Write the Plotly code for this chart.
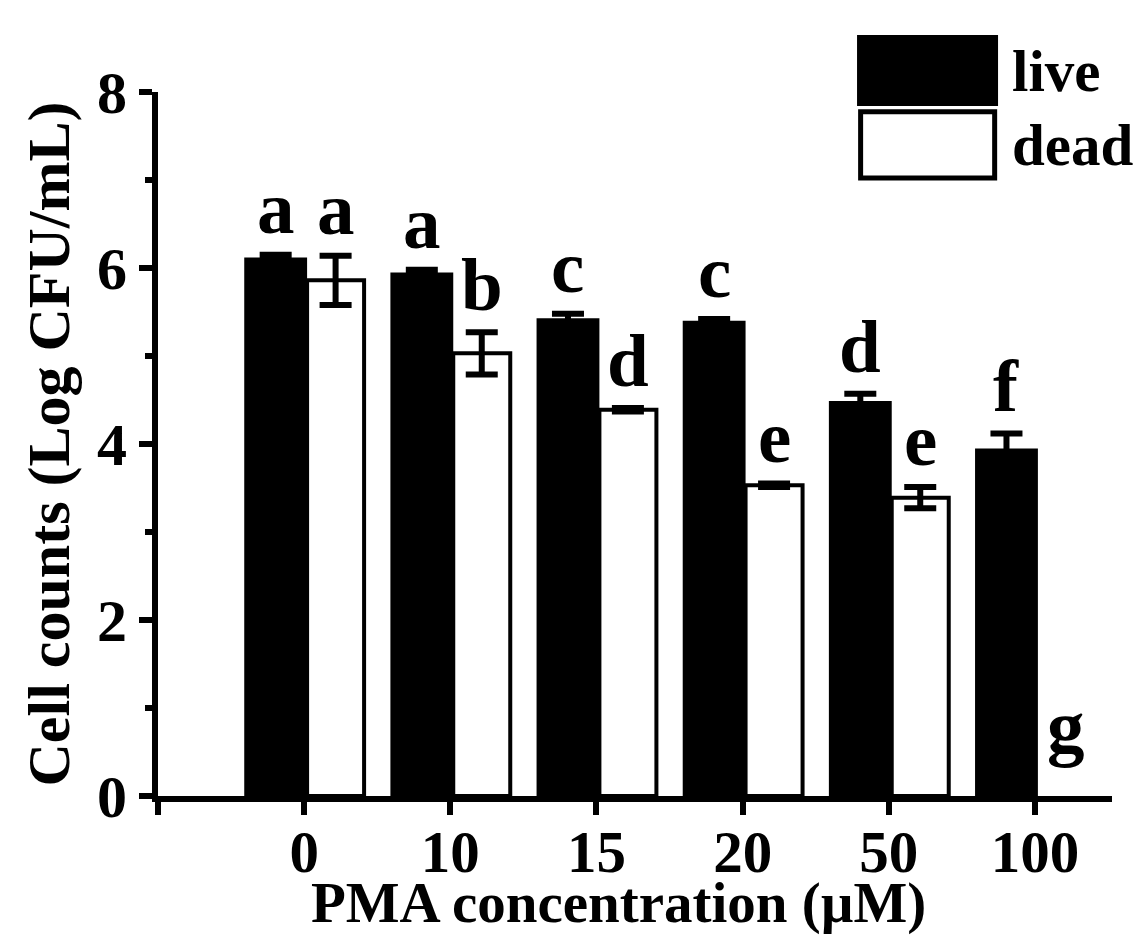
import plotly.graph_objects as go

# ---- data ----
categories = ["0", "10", "15", "20", "50", "100"]
live_values = [6.12, 5.95, 5.43, 5.40, 4.49, 3.95]
live_errors = [0.03, 0.03, 0.05, 0.02, 0.08, 0.17]
dead_values = [5.86, 5.03, 4.39, 3.53, 3.39, 0.0]
dead_errors = [0.28, 0.24, 0.02, 0.02, 0.12, 0.0]
live_letters = ["a", "a", "c", "c", "d", "f"]
dead_letters = ["a", "b", "d", "e", "e", "g"]
y_ticks = [0, 2, 4, 6, 8]
x_title = "PMA concentration (\u00b5M)"
y_title = "Cell counts (Log CFU/mL)"

FONT = "Liberation Serif"
pos = list(range(len(categories)))

LIVE_OFF, LIVE_W = -0.41, 0.43
DEAD_OFF, DEAD_W = 0.02, 0.39

fig = go.Figure()
fig.add_trace(go.Bar(
    x=pos, y=live_values, name="live",
    offset=LIVE_OFF, width=LIVE_W,
    marker=dict(color="black", line=dict(color="black", width=0)),
    error_y=dict(type="data", array=live_errors, visible=True,
                 color="black", thickness=6, width=16),
    showlegend=False,
))
# a value of 0 (no countable cells) is drawn as no bar at all
fig.add_trace(go.Bar(
    x=pos, y=[v if v > 0 else None for v in dead_values], name="dead",
    offset=DEAD_OFF, width=DEAD_W,
    marker=dict(color="white", line=dict(color="black", width=4)),
    error_y=dict(type="data", array=dead_errors, visible=True,
                 color="black", thickness=6, width=16),
    showlegend=False,
))

# significance letters
for i in pos:
    fig.add_annotation(
        x=i + LIVE_OFF + LIVE_W / 2, y=live_values[i] + live_errors[i],
        text=live_letters[i], showarrow=False, yanchor="bottom", yshift=4,
        font=dict(family=FONT, size=75, color="black", weight="bold"))
    ytop = dead_values[i] + dead_errors[i]
    fig.add_annotation(
        x=i + DEAD_OFF + DEAD_W / 2, y=ytop,
        text=dead_letters[i], showarrow=False, yanchor="bottom",
        yshift=4 if ytop > 0 else 26,
        font=dict(family=FONT, size=75, color="black", weight="bold"))

# legend drawn as boxes + labels
fig.add_shape(type="rect", xref="paper", yref="paper",
              x0=0.7338, x1=0.8795, y0=0.9815, y1=1.0795,
              fillcolor="black", line=dict(color="black", width=2))
fig.add_shape(type="rect", xref="paper", yref="paper",
              x0=0.7365, x1=0.877, y0=0.878, y1=0.972,
              fillcolor="white", line=dict(color="black", width=5))
fig.add_annotation(xref="paper", yref="paper", x=0.893, y=1.03,
                   text="live", showarrow=False, xanchor="left", yanchor="middle",
                   font=dict(family=FONT, size=59, color="black", weight="bold"))
fig.add_annotation(xref="paper", yref="paper", x=0.893, y=0.925,
                   text="dead", showarrow=False, xanchor="left", yanchor="middle",
                   font=dict(family=FONT, size=59, color="black", weight="bold"))

# x-axis title as a text placed under the tick labels
fig.add_annotation(xref="paper", yref="paper", x=0.483, y=-0.152,
                   text=x_title, showarrow=False, xanchor="center", yanchor="middle",
                   font=dict(family=FONT, size=57, color="black", weight="bold"))

fig.update_layout(
    width=1138, height=935,
    margin=dict(l=158, r=26, t=92, b=139, autoexpand=False),
    paper_bgcolor="white", plot_bgcolor="white",
    barmode="overlay",
    font=dict(family=FONT, color="black"),
)
fig.update_xaxes(
    automargin=False,
    range=[-1, 5.527], tickmode="array",
    tickvals=[-1] + pos, ticktext=[""] + categories,
    showline=True, linewidth=6, linecolor="black",
    ticks="outside", ticklen=13, tickwidth=6, tickcolor="black",
    ticklabelstandoff=-14,
    showgrid=False, zeroline=False,
    tickfont=dict(family=FONT, size=59, color="black", weight="bold"),
)
fig.update_yaxes(
    automargin=False,
    range=[0, 8], tickmode="array", tickvals=y_ticks,
    showline=True, linewidth=6, linecolor="black",
    ticks="outside", ticklen=13, tickwidth=6, tickcolor="black",
    minor=dict(dtick=1, ticks="outside", ticklen=7, tickwidth=6, tickcolor="black"),
    showgrid=False, zeroline=False,
    tickfont=dict(family=FONT, size=60, color="black", weight="bold"),
    title=dict(text=y_title, standoff=10,
               font=dict(family=FONT, size=60, color="black", weight="bold")),
)

fig.write_html(
    "out.html",
    config={"displayModeBar": False},
    post_script="document.body.style.margin='0';document.body.style.overflow='hidden';",
)
